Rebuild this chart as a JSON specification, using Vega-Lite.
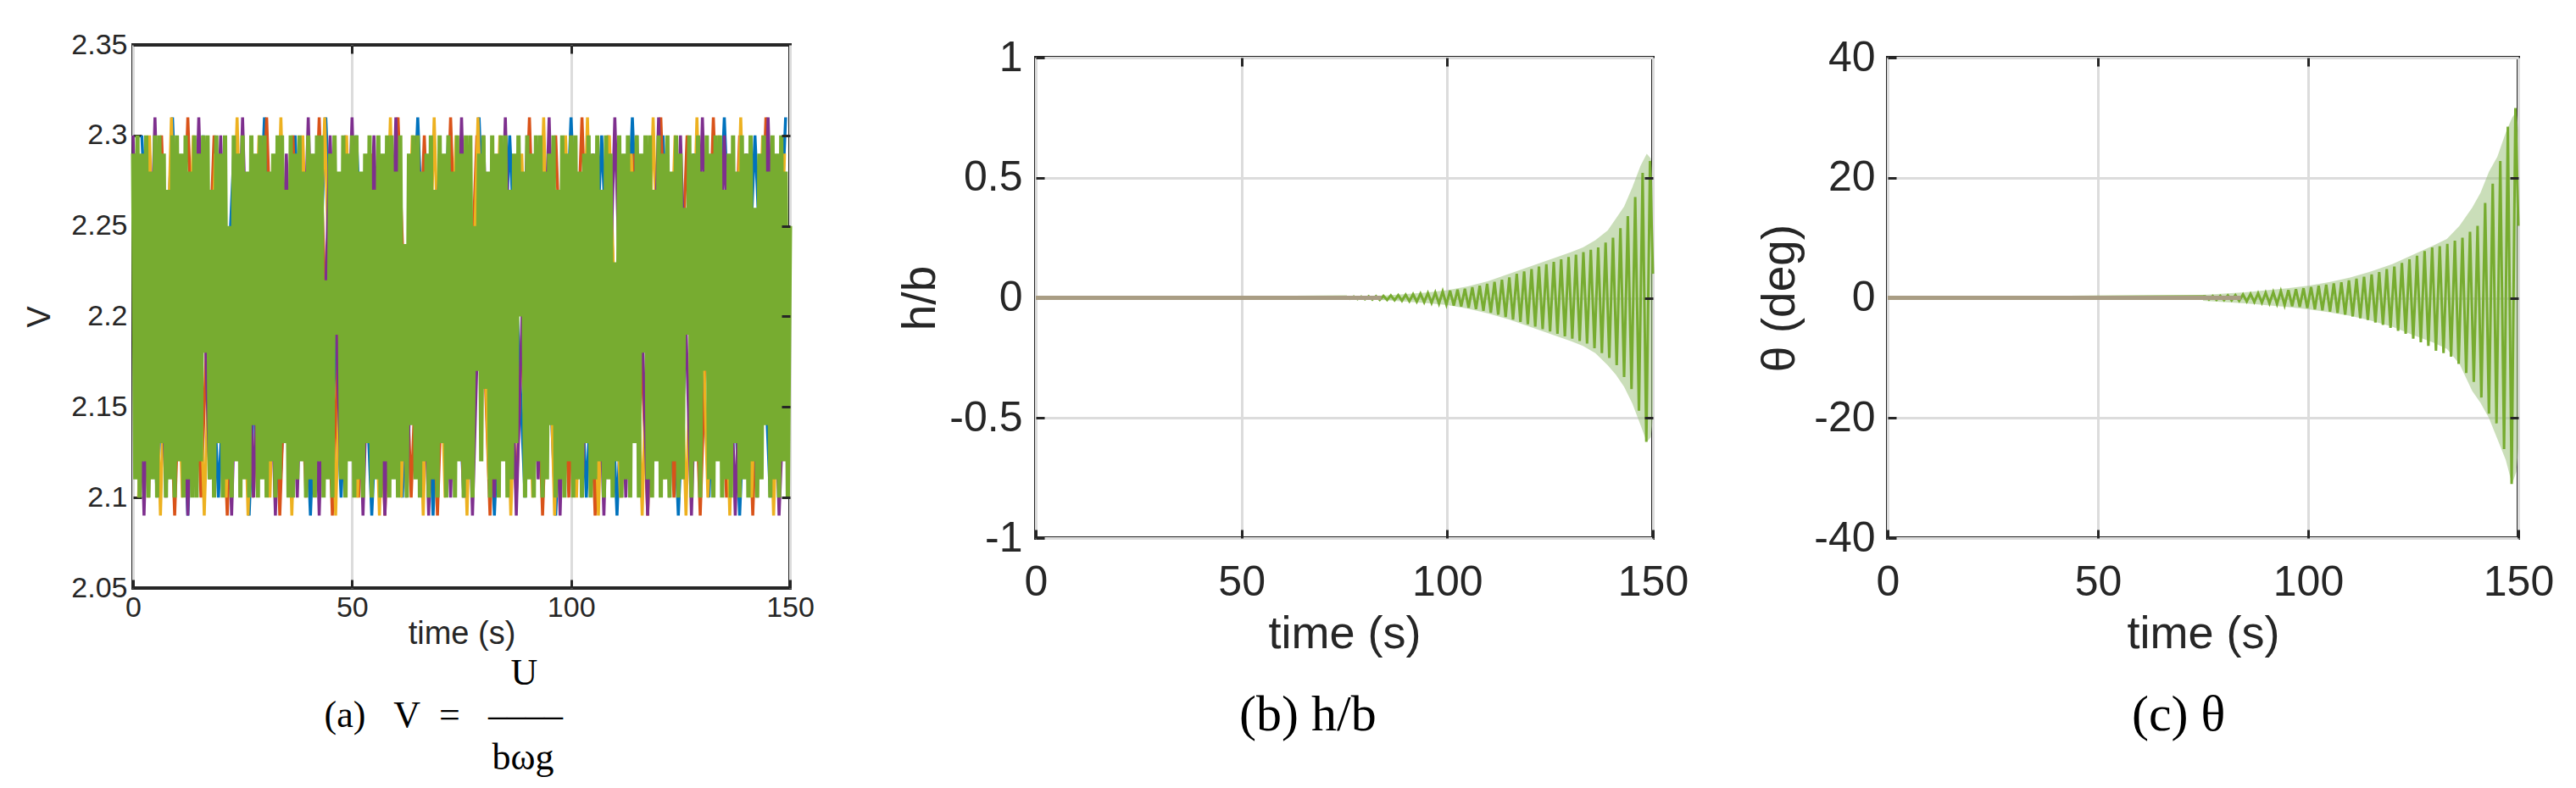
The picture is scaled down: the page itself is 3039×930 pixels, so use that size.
{
"$schema": "https://vega.github.io/schema/vega-lite/v6.json",
"background": "white",
"padding": {"left": 26, "top": 34, "right": 10, "bottom": 10},
"autosize": {"type": "pad"},
"config": {
  "font": "Liberation Sans",
  "view": {"stroke": "#262626", "strokeWidth": 4},
  "axis": {"labelColor": "#262626", "titleColor": "#262626", "tickColor": "#262626", "tickWidth": 3, "gridColor": "#dcdcdc", "gridWidth": 3, "gridOpacity": 1, "domain": false, "labelFlush": false, "labelOverlap": false, "titleFontWeight": "normal", "labelFont": "Liberation Sans", "titleFont": "Liberation Sans"}
},
"datasets": {
"a": [
{"s":"b","t":2,"v":2.30},{"s":"b","t":5.5,"v":2.10},{"s":"b","t":9,"v":2.31},{"s":"b","t":12.5,"v":2.09},{"s":"b","t":16,"v":2.30},{"s":"b","t":19.5,"v":2.10},{"s":"b","t":23,"v":2.29},{"s":"b","t":26.5,"v":2.09},{"s":"b","t":30,"v":2.31},{"s":"b","t":33.5,"v":2.10},{"s":"b","t":37,"v":2.30},{"s":"b","t":40.5,"v":2.09},{"s":"b","t":44,"v":2.31},{"s":"b","t":47.5,"v":2.10},{"s":"b","t":51,"v":2.30},{"s":"b","t":54.5,"v":2.09},{"s":"b","t":58,"v":2.29},{"s":"b","t":61.5,"v":2.10},{"s":"b","t":65,"v":2.31},{"s":"b","t":68.5,"v":2.09},{"s":"b","t":72,"v":2.30},{"s":"b","t":75.5,"v":2.10},{"s":"b","t":79,"v":2.31},{"s":"b","t":82.5,"v":2.09},{"s":"b","t":86,"v":2.30},{"s":"b","t":89.5,"v":2.10},{"s":"b","t":93,"v":2.29},{"s":"b","t":96.5,"v":2.09},{"s":"b","t":100,"v":2.31},{"s":"b","t":103.5,"v":2.10},{"s":"b","t":107,"v":2.30},{"s":"b","t":110.5,"v":2.09},{"s":"b","t":114,"v":2.31},{"s":"b","t":117.5,"v":2.10},{"s":"b","t":121,"v":2.30},{"s":"b","t":124.5,"v":2.09},{"s":"b","t":128,"v":2.29},{"s":"b","t":131.5,"v":2.10},{"s":"b","t":135,"v":2.31},{"s":"b","t":138.5,"v":2.09},{"s":"b","t":142,"v":2.30},{"s":"b","t":145.5,"v":2.10},{"s":"b","t":149,"v":2.31},
{"s":"r","t":0.5,"v":2.29},{"s":"r","t":3.5,"v":2.10},{"s":"r","t":6.5,"v":2.30},{"s":"r","t":9.5,"v":2.09},{"s":"r","t":12.5,"v":2.31},{"s":"r","t":15.5,"v":2.10},{"s":"r","t":18.5,"v":2.30},{"s":"r","t":21.5,"v":2.09},{"s":"r","t":24.5,"v":2.29},{"s":"r","t":27.5,"v":2.10},{"s":"r","t":30.5,"v":2.31},{"s":"r","t":33.5,"v":2.09},{"s":"r","t":36.5,"v":2.30},{"s":"r","t":39.5,"v":2.10},{"s":"r","t":42.5,"v":2.31},{"s":"r","t":45.5,"v":2.09},{"s":"r","t":48.5,"v":2.30},{"s":"r","t":51.5,"v":2.10},{"s":"r","t":54.5,"v":2.29},{"s":"r","t":57.5,"v":2.09},{"s":"r","t":60.5,"v":2.31},{"s":"r","t":63.5,"v":2.10},{"s":"r","t":66.5,"v":2.30},{"s":"r","t":69.5,"v":2.09},{"s":"r","t":72.5,"v":2.31},{"s":"r","t":75.5,"v":2.10},{"s":"r","t":78.5,"v":2.30},{"s":"r","t":81.5,"v":2.09},{"s":"r","t":84.5,"v":2.29},{"s":"r","t":87.5,"v":2.10},{"s":"r","t":90.5,"v":2.31},{"s":"r","t":93.5,"v":2.09},{"s":"r","t":96.5,"v":2.30},{"s":"r","t":99.5,"v":2.10},{"s":"r","t":102.5,"v":2.31},{"s":"r","t":105.5,"v":2.09},{"s":"r","t":108.5,"v":2.30},{"s":"r","t":111.5,"v":2.10},{"s":"r","t":114.5,"v":2.29},{"s":"r","t":117.5,"v":2.09},{"s":"r","t":120.5,"v":2.31},{"s":"r","t":123.5,"v":2.10},{"s":"r","t":126.5,"v":2.30},{"s":"r","t":129.5,"v":2.09},{"s":"r","t":132.5,"v":2.31},{"s":"r","t":135.5,"v":2.10},{"s":"r","t":138.5,"v":2.30},{"s":"r","t":141.5,"v":2.09},{"s":"r","t":144.5,"v":2.31},{"s":"r","t":147.5,"v":2.10},
{"s":"y","t":1.25,"v":2.10},{"s":"y","t":3.75,"v":2.30},{"s":"y","t":6.25,"v":2.09},{"s":"y","t":8.75,"v":2.31},{"s":"y","t":11.25,"v":2.10},{"s":"y","t":13.75,"v":2.30},{"s":"y","t":16.25,"v":2.09},{"s":"y","t":18.75,"v":2.29},{"s":"y","t":21.25,"v":2.10},{"s":"y","t":23.75,"v":2.31},{"s":"y","t":26.25,"v":2.09},{"s":"y","t":28.75,"v":2.30},{"s":"y","t":31.25,"v":2.10},{"s":"y","t":33.75,"v":2.31},{"s":"y","t":36.25,"v":2.09},{"s":"y","t":38.75,"v":2.30},{"s":"y","t":41.25,"v":2.11},{"s":"y","t":43.75,"v":2.31},{"s":"y","t":46.25,"v":2.09},{"s":"y","t":48.75,"v":2.30},{"s":"y","t":51.25,"v":2.10},{"s":"y","t":53.75,"v":2.29},{"s":"y","t":56.25,"v":2.09},{"s":"y","t":58.75,"v":2.31},{"s":"y","t":61.25,"v":2.10},{"s":"y","t":63.75,"v":2.30},{"s":"y","t":66.25,"v":2.09},{"s":"y","t":68.75,"v":2.31},{"s":"y","t":71.25,"v":2.10},{"s":"y","t":73.75,"v":2.30},{"s":"y","t":76.25,"v":2.09},{"s":"y","t":78.75,"v":2.31},{"s":"y","t":81.25,"v":2.11},{"s":"y","t":83.75,"v":2.30},{"s":"y","t":86.25,"v":2.09},{"s":"y","t":88.75,"v":2.29},{"s":"y","t":91.25,"v":2.10},{"s":"y","t":93.75,"v":2.31},{"s":"y","t":96.25,"v":2.09},{"s":"y","t":98.75,"v":2.30},{"s":"y","t":101.25,"v":2.10},{"s":"y","t":103.75,"v":2.31},{"s":"y","t":106.25,"v":2.09},{"s":"y","t":108.75,"v":2.30},{"s":"y","t":111.25,"v":2.10},{"s":"y","t":113.75,"v":2.29},{"s":"y","t":116.25,"v":2.09},{"s":"y","t":118.75,"v":2.31},{"s":"y","t":121.25,"v":2.11},{"s":"y","t":123.75,"v":2.30},{"s":"y","t":126.25,"v":2.09},{"s":"y","t":128.75,"v":2.31},{"s":"y","t":131.25,"v":2.10},{"s":"y","t":133.75,"v":2.30},{"s":"y","t":136.25,"v":2.09},{"s":"y","t":138.75,"v":2.31},{"s":"y","t":141.25,"v":2.10},{"s":"y","t":143.75,"v":2.30},{"s":"y","t":146.25,"v":2.09},{"s":"y","t":148.75,"v":2.29},
{"s":"p","t":0,"v":2.30},{"s":"p","t":2.5,"v":2.09},{"s":"p","t":5,"v":2.31},{"s":"p","t":7.5,"v":2.10},{"s":"p","t":10,"v":2.29},{"s":"p","t":12.5,"v":2.09},{"s":"p","t":15,"v":2.31},{"s":"p","t":17.5,"v":2.11},{"s":"p","t":20,"v":2.30},{"s":"p","t":22.5,"v":2.09},{"s":"p","t":25,"v":2.31},{"s":"p","t":27.5,"v":2.10},{"s":"p","t":30,"v":2.30},{"s":"p","t":32.5,"v":2.09},{"s":"p","t":35,"v":2.29},{"s":"p","t":37.5,"v":2.10},{"s":"p","t":40,"v":2.31},{"s":"p","t":42.5,"v":2.09},{"s":"p","t":45,"v":2.30},{"s":"p","t":47.5,"v":2.11},{"s":"p","t":50,"v":2.31},{"s":"p","t":52.5,"v":2.09},{"s":"p","t":55,"v":2.30},{"s":"p","t":57.5,"v":2.09},{"s":"p","t":60,"v":2.31},{"s":"p","t":62.5,"v":2.10},{"s":"p","t":65,"v":2.30},{"s":"p","t":67.5,"v":2.09},{"s":"p","t":70,"v":2.29},{"s":"p","t":72.5,"v":2.10},{"s":"p","t":75,"v":2.31},{"s":"p","t":77.5,"v":2.09},{"s":"p","t":80,"v":2.30},{"s":"p","t":82.5,"v":2.10},{"s":"p","t":85,"v":2.31},{"s":"p","t":87.5,"v":2.09},{"s":"p","t":90,"v":2.30},{"s":"p","t":92.5,"v":2.11},{"s":"p","t":95,"v":2.31},{"s":"p","t":97.5,"v":2.09},{"s":"p","t":100,"v":2.30},{"s":"p","t":102.5,"v":2.10},{"s":"p","t":105,"v":2.29},{"s":"p","t":107.5,"v":2.09},{"s":"p","t":110,"v":2.31},{"s":"p","t":112.5,"v":2.10},{"s":"p","t":115,"v":2.30},{"s":"p","t":117.5,"v":2.09},{"s":"p","t":120,"v":2.31},{"s":"p","t":122.5,"v":2.10},{"s":"p","t":125,"v":2.30},{"s":"p","t":127.5,"v":2.09},{"s":"p","t":130,"v":2.31},{"s":"p","t":132.5,"v":2.11},{"s":"p","t":135,"v":2.30},{"s":"p","t":137.5,"v":2.09},{"s":"p","t":140,"v":2.29},{"s":"p","t":142.5,"v":2.10},{"s":"p","t":145,"v":2.31},{"s":"p","t":147.5,"v":2.09},{"s":"p","t":150,"v":2.24},
{"s":"g","t":0,"v":2.29},{"s":"g","t":0.5,"v":2.11},{"s":"g","t":1,"v":2.30},{"s":"g","t":1.5,"v":2.10},{"s":"g","t":2,"v":2.29},{"s":"g","t":2.5,"v":2.12},{"s":"g","t":3,"v":2.30},{"s":"g","t":3.5,"v":2.10},{"s":"g","t":4,"v":2.28},{"s":"g","t":4.5,"v":2.11},{"s":"g","t":5,"v":2.30},{"s":"g","t":5.5,"v":2.10},{"s":"g","t":6,"v":2.30},{"s":"g","t":6.5,"v":2.13},{"s":"g","t":7,"v":2.29},{"s":"g","t":7.5,"v":2.10},{"s":"g","t":8,"v":2.27},{"s":"g","t":8.5,"v":2.11},{"s":"g","t":9,"v":2.30},{"s":"g","t":9.5,"v":2.10},
{"s":"g","t":10,"v":2.30},{"s":"g","t":10.5,"v":2.12},{"s":"g","t":11,"v":2.29},{"s":"g","t":11.5,"v":2.10},{"s":"g","t":12,"v":2.30},{"s":"g","t":12.5,"v":2.11},{"s":"g","t":13,"v":2.28},{"s":"g","t":13.5,"v":2.10},{"s":"g","t":14,"v":2.30},{"s":"g","t":14.5,"v":2.10},{"s":"g","t":15,"v":2.29},{"s":"g","t":15.5,"v":2.12},{"s":"g","t":16,"v":2.30},{"s":"g","t":16.5,"v":2.18},{"s":"g","t":17,"v":2.30},{"s":"g","t":17.5,"v":2.11},{"s":"g","t":18,"v":2.27},{"s":"g","t":18.5,"v":2.10},{"s":"g","t":19,"v":2.30},{"s":"g","t":19.5,"v":2.13},
{"s":"g","t":20,"v":2.29},{"s":"g","t":20.5,"v":2.10},{"s":"g","t":21,"v":2.30},{"s":"g","t":21.5,"v":2.11},{"s":"g","t":22,"v":2.25},{"s":"g","t":22.5,"v":2.10},{"s":"g","t":23,"v":2.30},{"s":"g","t":23.5,"v":2.12},{"s":"g","t":24,"v":2.29},{"s":"g","t":24.5,"v":2.10},{"s":"g","t":25,"v":2.30},{"s":"g","t":25.5,"v":2.11},{"s":"g","t":26,"v":2.28},{"s":"g","t":26.5,"v":2.10},{"s":"g","t":27,"v":2.30},{"s":"g","t":27.5,"v":2.14},{"s":"g","t":28,"v":2.29},{"s":"g","t":28.5,"v":2.10},{"s":"g","t":29,"v":2.30},{"s":"g","t":29.5,"v":2.11},
{"s":"g","t":30,"v":2.30},{"s":"g","t":30.5,"v":2.10},{"s":"g","t":31,"v":2.28},{"s":"g","t":31.5,"v":2.12},{"s":"g","t":32,"v":2.29},{"s":"g","t":32.5,"v":2.10},{"s":"g","t":33,"v":2.30},{"s":"g","t":33.5,"v":2.11},{"s":"g","t":34,"v":2.30},{"s":"g","t":34.5,"v":2.13},{"s":"g","t":35,"v":2.27},{"s":"g","t":35.5,"v":2.10},{"s":"g","t":36,"v":2.30},{"s":"g","t":36.5,"v":2.10},{"s":"g","t":37,"v":2.29},{"s":"g","t":37.5,"v":2.11},{"s":"g","t":38,"v":2.30},{"s":"g","t":38.5,"v":2.12},{"s":"g","t":39,"v":2.28},{"s":"g","t":39.5,"v":2.10},
{"s":"g","t":40,"v":2.30},{"s":"g","t":40.5,"v":2.11},{"s":"g","t":41,"v":2.29},{"s":"g","t":41.5,"v":2.10},{"s":"g","t":42,"v":2.30},{"s":"g","t":42.5,"v":2.12},{"s":"g","t":43,"v":2.30},{"s":"g","t":43.5,"v":2.10},{"s":"g","t":44,"v":2.22},{"s":"g","t":44.5,"v":2.11},{"s":"g","t":45,"v":2.29},{"s":"g","t":45.5,"v":2.10},{"s":"g","t":46,"v":2.30},{"s":"g","t":46.5,"v":2.19},{"s":"g","t":47,"v":2.28},{"s":"g","t":47.5,"v":2.11},{"s":"g","t":48,"v":2.30},{"s":"g","t":48.5,"v":2.10},{"s":"g","t":49,"v":2.29},{"s":"g","t":49.5,"v":2.12},
{"s":"g","t":50,"v":2.30},{"s":"g","t":50.5,"v":2.10},{"s":"g","t":51,"v":2.30},{"s":"g","t":51.5,"v":2.11},{"s":"g","t":52,"v":2.28},{"s":"g","t":52.5,"v":2.10},{"s":"g","t":53,"v":2.29},{"s":"g","t":53.5,"v":2.13},{"s":"g","t":54,"v":2.30},{"s":"g","t":54.5,"v":2.10},{"s":"g","t":55,"v":2.27},{"s":"g","t":55.5,"v":2.11},{"s":"g","t":56,"v":2.30},{"s":"g","t":56.5,"v":2.10},{"s":"g","t":57,"v":2.29},{"s":"g","t":57.5,"v":2.12},{"s":"g","t":58,"v":2.30},{"s":"g","t":58.5,"v":2.10},{"s":"g","t":59,"v":2.30},{"s":"g","t":59.5,"v":2.11},
{"s":"g","t":60,"v":2.28},{"s":"g","t":60.5,"v":2.10},{"s":"g","t":61,"v":2.30},{"s":"g","t":61.5,"v":2.12},{"s":"g","t":62,"v":2.24},{"s":"g","t":62.5,"v":2.10},{"s":"g","t":63,"v":2.29},{"s":"g","t":63.5,"v":2.14},{"s":"g","t":64,"v":2.30},{"s":"g","t":64.5,"v":2.11},{"s":"g","t":65,"v":2.30},{"s":"g","t":65.5,"v":2.10},{"s":"g","t":66,"v":2.28},{"s":"g","t":66.5,"v":2.12},{"s":"g","t":67,"v":2.29},{"s":"g","t":67.5,"v":2.10},{"s":"g","t":68,"v":2.30},{"s":"g","t":68.5,"v":2.11},{"s":"g","t":69,"v":2.27},{"s":"g","t":69.5,"v":2.10},
{"s":"g","t":70,"v":2.30},{"s":"g","t":70.5,"v":2.13},{"s":"g","t":71,"v":2.29},{"s":"g","t":71.5,"v":2.10},{"s":"g","t":72,"v":2.30},{"s":"g","t":72.5,"v":2.11},{"s":"g","t":73,"v":2.28},{"s":"g","t":73.5,"v":2.10},{"s":"g","t":74,"v":2.30},{"s":"g","t":74.5,"v":2.12},{"s":"g","t":75,"v":2.29},{"s":"g","t":75.5,"v":2.10},{"s":"g","t":76,"v":2.30},{"s":"g","t":76.5,"v":2.11},{"s":"g","t":77,"v":2.30},{"s":"g","t":77.5,"v":2.10},{"s":"g","t":78,"v":2.25},{"s":"g","t":78.5,"v":2.17},{"s":"g","t":79,"v":2.29},{"s":"g","t":79.5,"v":2.12},
{"s":"g","t":80,"v":2.30},{"s":"g","t":80.5,"v":2.16},{"s":"g","t":81,"v":2.28},{"s":"g","t":81.5,"v":2.10},{"s":"g","t":82,"v":2.30},{"s":"g","t":82.5,"v":2.11},{"s":"g","t":83,"v":2.29},{"s":"g","t":83.5,"v":2.10},{"s":"g","t":84,"v":2.30},{"s":"g","t":84.5,"v":2.12},{"s":"g","t":85,"v":2.30},{"s":"g","t":85.5,"v":2.10},{"s":"g","t":86,"v":2.27},{"s":"g","t":86.5,"v":2.11},{"s":"g","t":87,"v":2.29},{"s":"g","t":87.5,"v":2.13},{"s":"g","t":88,"v":2.30},{"s":"g","t":88.5,"v":2.20},{"s":"g","t":89,"v":2.28},{"s":"g","t":89.5,"v":2.10},
{"s":"g","t":90,"v":2.30},{"s":"g","t":90.5,"v":2.11},{"s":"g","t":91,"v":2.29},{"s":"g","t":91.5,"v":2.10},{"s":"g","t":92,"v":2.30},{"s":"g","t":92.5,"v":2.12},{"s":"g","t":93,"v":2.30},{"s":"g","t":93.5,"v":2.10},{"s":"g","t":94,"v":2.28},{"s":"g","t":94.5,"v":2.11},{"s":"g","t":95,"v":2.29},{"s":"g","t":95.5,"v":2.14},{"s":"g","t":96,"v":2.30},{"s":"g","t":96.5,"v":2.10},{"s":"g","t":97,"v":2.27},{"s":"g","t":97.5,"v":2.11},{"s":"g","t":98,"v":2.30},{"s":"g","t":98.5,"v":2.10},{"s":"g","t":99,"v":2.29},{"s":"g","t":99.5,"v":2.12},
{"s":"g","t":100,"v":2.30},{"s":"g","t":100.5,"v":2.10},{"s":"g","t":101,"v":2.30},{"s":"g","t":101.5,"v":2.11},{"s":"g","t":102,"v":2.28},{"s":"g","t":102.5,"v":2.10},{"s":"g","t":103,"v":2.29},{"s":"g","t":103.5,"v":2.13},{"s":"g","t":104,"v":2.30},{"s":"g","t":104.5,"v":2.10},{"s":"g","t":105,"v":2.29},{"s":"g","t":105.5,"v":2.11},{"s":"g","t":106,"v":2.30},{"s":"g","t":106.5,"v":2.12},{"s":"g","t":107,"v":2.27},{"s":"g","t":107.5,"v":2.10},{"s":"g","t":108,"v":2.30},{"s":"g","t":108.5,"v":2.11},{"s":"g","t":109,"v":2.29},{"s":"g","t":109.5,"v":2.10},
{"s":"g","t":110,"v":2.23},{"s":"g","t":110.5,"v":2.12},{"s":"g","t":111,"v":2.30},{"s":"g","t":111.5,"v":2.10},{"s":"g","t":112,"v":2.29},{"s":"g","t":112.5,"v":2.11},{"s":"g","t":113,"v":2.30},{"s":"g","t":113.5,"v":2.10},{"s":"g","t":114,"v":2.28},{"s":"g","t":114.5,"v":2.13},{"s":"g","t":115,"v":2.30},{"s":"g","t":115.5,"v":2.10},{"s":"g","t":116,"v":2.29},{"s":"g","t":116.5,"v":2.18},{"s":"g","t":117,"v":2.30},{"s":"g","t":117.5,"v":2.11},{"s":"g","t":118,"v":2.30},{"s":"g","t":118.5,"v":2.10},{"s":"g","t":119,"v":2.27},{"s":"g","t":119.5,"v":2.12},
{"s":"g","t":120,"v":2.30},{"s":"g","t":120.5,"v":2.10},{"s":"g","t":121,"v":2.29},{"s":"g","t":121.5,"v":2.11},{"s":"g","t":122,"v":2.30},{"s":"g","t":122.5,"v":2.10},{"s":"g","t":123,"v":2.28},{"s":"g","t":123.5,"v":2.12},{"s":"g","t":124,"v":2.30},{"s":"g","t":124.5,"v":2.10},{"s":"g","t":125,"v":2.29},{"s":"g","t":125.5,"v":2.11},{"s":"g","t":126,"v":2.26},{"s":"g","t":126.5,"v":2.19},{"s":"g","t":127,"v":2.30},{"s":"g","t":127.5,"v":2.10},{"s":"g","t":128,"v":2.29},{"s":"g","t":128.5,"v":2.12},{"s":"g","t":129,"v":2.30},{"s":"g","t":129.5,"v":2.10},
{"s":"g","t":130,"v":2.28},{"s":"g","t":130.5,"v":2.17},{"s":"g","t":131,"v":2.30},{"s":"g","t":131.5,"v":2.11},{"s":"g","t":132,"v":2.29},{"s":"g","t":132.5,"v":2.10},{"s":"g","t":133,"v":2.30},{"s":"g","t":133.5,"v":2.12},{"s":"g","t":134,"v":2.30},{"s":"g","t":134.5,"v":2.10},{"s":"g","t":135,"v":2.27},{"s":"g","t":135.5,"v":2.11},{"s":"g","t":136,"v":2.29},{"s":"g","t":136.5,"v":2.10},{"s":"g","t":137,"v":2.30},{"s":"g","t":137.5,"v":2.13},{"s":"g","t":138,"v":2.28},{"s":"g","t":138.5,"v":2.10},{"s":"g","t":139,"v":2.30},{"s":"g","t":139.5,"v":2.11},
{"s":"g","t":140,"v":2.29},{"s":"g","t":140.5,"v":2.10},{"s":"g","t":141,"v":2.30},{"s":"g","t":141.5,"v":2.12},{"s":"g","t":142,"v":2.26},{"s":"g","t":142.5,"v":2.10},{"s":"g","t":143,"v":2.29},{"s":"g","t":143.5,"v":2.11},{"s":"g","t":144,"v":2.30},{"s":"g","t":144.5,"v":2.14},{"s":"g","t":145,"v":2.28},{"s":"g","t":145.5,"v":2.10},{"s":"g","t":146,"v":2.30},{"s":"g","t":146.5,"v":2.11},{"s":"g","t":147,"v":2.29},{"s":"g","t":147.5,"v":2.10},{"s":"g","t":148,"v":2.30},{"s":"g","t":148.5,"v":2.12},{"s":"g","t":149,"v":2.28},{"s":"g","t":149.5,"v":2.10},
{"s":"g","t":150,"v":2.25}
],
"b": [
{"s":"f","t":0,"v":0},{"s":"f","t":84,"v":0},
{"s":"g","t":0,"v":0},
{"s":"g","t":75.5,"v":0.004},{"s":"g","t":76.4,"v":-0.004},{"s":"g","t":77.3,"v":0.005},{"s":"g","t":78.2,"v":-0.005},{"s":"g","t":79.1,"v":0.005},{"s":"g","t":80.0,"v":-0.006},{"s":"g","t":80.9,"v":0.006},{"s":"g","t":81.8,"v":-0.007},{"s":"g","t":82.7,"v":0.007},{"s":"g","t":83.6,"v":-0.008},
{"s":"g","t":84.5,"v":0.008},{"s":"g","t":85.4,"v":-0.009},{"s":"g","t":86.3,"v":0.010},{"s":"g","t":87.2,"v":-0.010},{"s":"g","t":88.1,"v":0.011},{"s":"g","t":89.0,"v":-0.012},{"s":"g","t":89.9,"v":0.013},{"s":"g","t":90.8,"v":-0.014},{"s":"g","t":91.7,"v":0.015},{"s":"g","t":92.6,"v":-0.016},
{"s":"g","t":93.5,"v":0.017},{"s":"g","t":94.4,"v":-0.018},{"s":"g","t":95.3,"v":0.020},{"s":"g","t":96.2,"v":-0.021},{"s":"g","t":97.1,"v":0.022},{"s":"g","t":98.0,"v":-0.024},{"s":"g","t":98.9,"v":0.026},{"s":"g","t":99.8,"v":-0.028},{"s":"g","t":100.7,"v":0.030},{"s":"g","t":101.6,"v":-0.032},
{"s":"g","t":102.5,"v":0.034},{"s":"g","t":103.4,"v":-0.036},{"s":"g","t":104.3,"v":0.038},{"s":"g","t":105.2,"v":-0.041},{"s":"g","t":106.1,"v":0.044},{"s":"g","t":107.0,"v":-0.047},{"s":"g","t":107.9,"v":0.050},{"s":"g","t":108.8,"v":-0.054},{"s":"g","t":109.7,"v":0.058},{"s":"g","t":110.6,"v":-0.062},
{"s":"g","t":111.5,"v":0.066},{"s":"g","t":112.4,"v":-0.070},{"s":"g","t":113.3,"v":0.075},{"s":"g","t":114.2,"v":-0.080},{"s":"g","t":115.1,"v":0.085},{"s":"g","t":116.0,"v":-0.090},{"s":"g","t":116.9,"v":0.10},{"s":"g","t":117.8,"v":-0.10},{"s":"g","t":118.7,"v":0.11},{"s":"g","t":119.6,"v":-0.11},
{"s":"g","t":120.5,"v":0.12},{"s":"g","t":121.4,"v":-0.12},{"s":"g","t":122.3,"v":0.13},{"s":"g","t":123.2,"v":-0.13},{"s":"g","t":124.1,"v":0.14},{"s":"g","t":125.0,"v":-0.14},{"s":"g","t":125.9,"v":0.15},{"s":"g","t":126.8,"v":-0.15},{"s":"g","t":127.7,"v":0.16},{"s":"g","t":128.6,"v":-0.16},
{"s":"g","t":129.5,"v":0.17},{"s":"g","t":130.4,"v":-0.17},{"s":"g","t":131.3,"v":0.18},{"s":"g","t":132.2,"v":-0.18},{"s":"g","t":133.1,"v":0.19},{"s":"g","t":134.0,"v":-0.19},{"s":"g","t":134.9,"v":0.20},{"s":"g","t":135.8,"v":-0.21},{"s":"g","t":136.7,"v":0.21},{"s":"g","t":137.6,"v":-0.23},
{"s":"g","t":138.5,"v":0.23},{"s":"g","t":139.4,"v":-0.25},{"s":"g","t":140.3,"v":0.25},{"s":"g","t":141.2,"v":-0.28},{"s":"g","t":142.1,"v":0.29},{"s":"g","t":143.0,"v":-0.33},{"s":"g","t":143.9,"v":0.34},{"s":"g","t":144.8,"v":-0.38},{"s":"g","t":145.7,"v":0.42},{"s":"g","t":146.6,"v":-0.47},
{"s":"g","t":147.5,"v":0.52},{"s":"g","t":148.4,"v":-0.60},{"s":"g","t":149.3,"v":0.57},{"s":"g","t":150,"v":0.10}
],
"benv": [
{"t":75,"lo":-0.006,"hi":0.006},{"t":85,"lo":-0.01,"hi":0.01},{"t":95,"lo":-0.022,"hi":0.022},{"t":100,"lo":-0.03,"hi":0.032},{"t":105,"lo":-0.045,"hi":0.048},{"t":110,"lo":-0.065,"hi":0.07},{"t":115,"lo":-0.09,"hi":0.1},{"t":120,"lo":-0.12,"hi":0.13},{"t":125,"lo":-0.15,"hi":0.16},{"t":130,"lo":-0.18,"hi":0.19},{"t":133,"lo":-0.2,"hi":0.21},{"t":136,"lo":-0.23,"hi":0.24},{"t":139,"lo":-0.28,"hi":0.28},{"t":141,"lo":-0.32,"hi":0.33},{"t":143,"lo":-0.37,"hi":0.38},{"t":145,"lo":-0.44,"hi":0.46},{"t":147,"lo":-0.53,"hi":0.55},{"t":148.5,"lo":-0.6,"hi":0.6},{"t":149.5,"lo":-0.58,"hi":0.58},{"t":150,"lo":-0.5,"hi":0.45}
],
"c": [
{"s":"f","t":0,"v":0},{"s":"f","t":84,"v":0},
{"s":"g","t":0,"v":0},
{"s":"g","t":75.5,"v":0.26},{"s":"g","t":76.4,"v":-0.28},{"s":"g","t":77.3,"v":0.30},{"s":"g","t":78.2,"v":-0.32},{"s":"g","t":79.1,"v":0.34},{"s":"g","t":80.0,"v":-0.37},{"s":"g","t":80.9,"v":0.40},{"s":"g","t":81.8,"v":-0.42},{"s":"g","t":82.7,"v":0.45},{"s":"g","t":83.6,"v":-0.50},
{"s":"g","t":84.5,"v":0.55},{"s":"g","t":85.4,"v":-0.60},{"s":"g","t":86.3,"v":0.65},{"s":"g","t":87.2,"v":-0.70},{"s":"g","t":88.1,"v":0.75},{"s":"g","t":89.0,"v":-0.80},{"s":"g","t":89.9,"v":0.85},{"s":"g","t":90.8,"v":-0.90},{"s":"g","t":91.7,"v":0.95},{"s":"g","t":92.6,"v":-1.0},
{"s":"g","t":93.5,"v":1.1},{"s":"g","t":94.4,"v":-1.2},{"s":"g","t":95.3,"v":1.3},{"s":"g","t":96.2,"v":-1.4},{"s":"g","t":97.1,"v":1.45},{"s":"g","t":98.0,"v":-1.5},{"s":"g","t":98.9,"v":1.6},{"s":"g","t":99.8,"v":-1.7},{"s":"g","t":100.7,"v":1.8},{"s":"g","t":101.6,"v":-1.9},
{"s":"g","t":102.5,"v":2.0},{"s":"g","t":103.4,"v":-2.1},{"s":"g","t":104.3,"v":2.2},{"s":"g","t":105.2,"v":-2.3},{"s":"g","t":106.1,"v":2.4},{"s":"g","t":107.0,"v":-2.5},{"s":"g","t":107.9,"v":2.6},{"s":"g","t":108.8,"v":-2.8},{"s":"g","t":109.7,"v":2.9},{"s":"g","t":110.6,"v":-3.1},
{"s":"g","t":111.5,"v":3.2},{"s":"g","t":112.4,"v":-3.4},{"s":"g","t":113.3,"v":3.5},{"s":"g","t":114.2,"v":-3.7},{"s":"g","t":115.1,"v":3.9},{"s":"g","t":116.0,"v":-4.1},{"s":"g","t":116.9,"v":4.3},{"s":"g","t":117.8,"v":-4.5},{"s":"g","t":118.7,"v":4.8},{"s":"g","t":119.6,"v":-5.0},
{"s":"g","t":120.5,"v":5.2},{"s":"g","t":121.4,"v":-5.5},{"s":"g","t":122.3,"v":5.8},{"s":"g","t":123.2,"v":-6.0},{"s":"g","t":124.1,"v":6.4},{"s":"g","t":125.0,"v":-6.8},{"s":"g","t":125.9,"v":7.0},{"s":"g","t":126.8,"v":-7.4},{"s":"g","t":127.7,"v":7.8},{"s":"g","t":128.6,"v":-8.0},
{"s":"g","t":129.5,"v":8.4},{"s":"g","t":130.4,"v":-8.8},{"s":"g","t":131.3,"v":8.6},{"s":"g","t":132.2,"v":-9.2},{"s":"g","t":133.1,"v":9.0},{"s":"g","t":134.0,"v":-9.8},{"s":"g","t":134.9,"v":9.5},{"s":"g","t":135.8,"v":-11.0},{"s":"g","t":136.7,"v":10.0},{"s":"g","t":137.6,"v":-12.5},
{"s":"g","t":138.5,"v":11.0},{"s":"g","t":139.4,"v":-14.0},{"s":"g","t":140.3,"v":12.0},{"s":"g","t":141.2,"v":-16.6},{"s":"g","t":142.1,"v":15.8},{"s":"g","t":143.0,"v":-19.3},{"s":"g","t":143.9,"v":19.0},{"s":"g","t":144.8,"v":-20.9},{"s":"g","t":145.7,"v":22.8},{"s":"g","t":146.6,"v":-25.2},
{"s":"g","t":147.5,"v":28.5},{"s":"g","t":148.4,"v":-31.0},{"s":"g","t":149.3,"v":31.6},{"s":"g","t":150,"v":12}
],
"cenv": [
{"t":75,"lo":-0.5,"hi":0.5},{"t":85,"lo":-0.9,"hi":0.9},{"t":95,"lo":-1.5,"hi":1.6},{"t":100,"lo":-1.9,"hi":2.0},{"t":105,"lo":-2.4,"hi":2.6},{"t":110,"lo":-3.0,"hi":3.4},{"t":115,"lo":-3.8,"hi":4.4},{"t":120,"lo":-4.8,"hi":5.6},{"t":125,"lo":-6.2,"hi":7.2},{"t":130,"lo":-7.5,"hi":8.8},{"t":133,"lo":-8.5,"hi":9.8},{"t":136,"lo":-11.0,"hi":12.0},{"t":139,"lo":-15.5,"hi":15.0},{"t":141,"lo":-17.5,"hi":17.5},{"t":143,"lo":-20,"hi":21},{"t":145,"lo":-23.5,"hi":23.5},{"t":147,"lo":-27,"hi":27.5},{"t":148.5,"lo":-31,"hi":30},{"t":149.5,"lo":-29,"hi":31},{"t":150,"lo":-25,"hi":28}
]
},
"spacing": 290,
"bounds": "flush",
"hconcat": [
{
  "width": 775, "height": 641,
  "data": {"name": "a"},
  "title": {"text": ["\u200b\u00a0\u00a0\u00a0\u00a0\u00a0\u00a0\u00a0\u00a0\u00a0\u00a0\u00a0\u00a0\u00a0\u00a0\u00a0\u00a0\u00a0\u00a0\u00a0\u00a0U", "(a)\u00a0\u00a0\u00a0V\u00a0\u00a0=\u00a0\u00a0\u00a0––––", "\u200b\u00a0\u00a0\u00a0\u00a0\u00a0\u00a0\u00a0\u00a0\u00a0\u00a0\u00a0\u00a0\u00a0\u00a0\u00a0\u00a0\u00a0\u00a0bωg"],
    "orient": "bottom", "frame": "group", "anchor": "middle", "align": "left", "dx": -162, "offset": 6, "baseline": "top",
    "font": "Liberation Serif", "fontSize": 44, "fontWeight": "normal", "color": "black", "lineHeight": 50},
  "layer": [
    {"transform": [{"filter": "datum.s != 'g'"}],
     "mark": {"type": "line", "strokeWidth": 3.5},
     "encoding": {
       "x": {"field": "t", "type": "quantitative", "scale": {"domain": [0, 150], "nice": false},
             "axis": {"values": [0, 50, 100, 150], "title": "time (s)", "titleFontSize": 38, "titleY": 65, "titleBaseline": "alphabetic", "labelFontSize": 34, "tickSize": -10, "labelPadding": 16, "grid": true}},
       "y": {"field": "v", "type": "quantitative", "scale": {"domain": [2.05, 2.35], "nice": false, "zero": false},
             "axis": {"values": [2.05, 2.1, 2.15, 2.2, 2.25, 2.3, 2.35], "format": ".3~g", "title": "V", "titleFontSize": 38, "titleX": -99, "titleBaseline": "alphabetic", "labelFontSize": 34, "tickSize": -10, "labelPadding": 17, "grid": false}},
       "color": {"field": "s", "type": "nominal", "scale": {"domain": ["b", "r", "y", "p", "g"], "range": ["#0072BD", "#D95319", "#EDB120", "#7E2F8E", "#77AC30"]}, "legend": null}
     }},
    {"transform": [{"filter": "datum.s == 'g'"}],
     "mark": {"type": "line", "strokeWidth": 5, "color": "#77AC30"},
     "encoding": {
       "x": {"field": "t", "type": "quantitative", "axis": {"orient": "top", "values": [50, 100], "labels": false, "title": null, "grid": false, "tickSize": -10, "zindex": 1}},
       "y": {"field": "v", "type": "quantitative", "axis": {"orient": "right", "values": [2.1, 2.15, 2.2, 2.25, 2.3], "labels": false, "title": null, "grid": false, "tickSize": -10, "zindex": 1}}
     }}
  ],
  "resolve": {"axis": {"x": "independent", "y": "independent"}}
},
{
  "spacing": 14,
  "bounds": "flush",
  "vconcat": [
    {"width": 10, "height": 1, "data": {"values": [{"k": 1}]}, "mark": {"type": "text", "text": ""}, "view": {"stroke": null}},
    {
      "spacing": 277,
      "bounds": "flush",
      "hconcat": [
        {
          "width": 728, "height": 567,
          "title": {"text": "(b) h/b",
            "orient": "bottom", "frame": "group", "anchor": "middle", "align": "left", "dx": -124, "offset": 40, "baseline": "top",
            "font": "Liberation Serif", "fontSize": 60, "fontWeight": "normal", "color": "black"},
          "layer": [
            {"data": {"name": "benv"},
             "mark": {"type": "area", "color": "#9fc27f", "opacity": 0.55},
             "encoding": {
               "x": {"field": "t", "type": "quantitative", "scale": {"domain": [0, 150], "nice": false},
                     "axis": {"values": [0, 50, 100, 150], "title": "time (s)", "titleFontSize": 54, "titleY": 129, "titleBaseline": "alphabetic", "labelFontSize": 50, "tickSize": -10, "labelPadding": 37, "grid": true}},
               "y": {"field": "lo", "type": "quantitative", "scale": {"domain": [-1, 1], "nice": false},
                     "axis": {"values": [-1, -0.5, 0, 0.5, 1], "format": "~g", "labelExpr": "replace(datum.label, '\u2212', '-')", "title": "h/b", "titleFontSize": 55, "titleX": -120, "titleBaseline": "alphabetic", "labelFontSize": 50, "tickSize": -10, "labelPadding": 26, "grid": true}},
               "y2": {"field": "hi"}
             }},
            {"data": {"name": "b"},
             "transform": [{"filter": "datum.s == 'g'"}],
             "mark": {"type": "line", "strokeWidth": 3, "color": "#77AC30"},
             "encoding": {
               "x": {"field": "t", "type": "quantitative", "axis": {"orient": "top", "values": [50, 100], "labels": false, "title": null, "grid": false, "tickSize": -10, "zindex": 1}},
               "y": {"field": "v", "type": "quantitative", "axis": {"orient": "right", "values": [-0.5, 0, 0.5], "labels": false, "title": null, "grid": false, "tickSize": -10, "zindex": 1}}
             }},
            {"data": {"name": "b"},
             "transform": [{"filter": "datum.s == 'f'"}],
             "mark": {"type": "line", "strokeWidth": 5, "color": "#a99d84"},
             "encoding": {
               "x": {"field": "t", "type": "quantitative", "axis": null},
               "y": {"field": "v", "type": "quantitative", "axis": null}
             }}
          ],
          "resolve": {"axis": {"x": "independent", "y": "independent"}}
        },
        {
          "width": 744, "height": 567,
          "title": {"text": "(c) θ",
            "orient": "bottom", "frame": "group", "anchor": "middle", "align": "left", "dx": -84, "offset": 40, "baseline": "top",
            "font": "Liberation Serif", "fontSize": 60, "fontWeight": "normal", "color": "black"},
          "layer": [
            {"data": {"name": "cenv"},
             "mark": {"type": "area", "color": "#9fc27f", "opacity": 0.55},
             "encoding": {
               "x": {"field": "t", "type": "quantitative", "scale": {"domain": [0, 150], "nice": false},
                     "axis": {"values": [0, 50, 100, 150], "title": "time (s)", "titleFontSize": 54, "titleY": 129, "titleBaseline": "alphabetic", "labelFontSize": 50, "tickSize": -10, "labelPadding": 37, "grid": true}},
               "y": {"field": "lo", "type": "quantitative", "scale": {"domain": [-40, 40], "nice": false},
                     "axis": {"values": [-40, -20, 0, 20, 40], "format": "d", "labelExpr": "replace(datum.label, '\u2212', '-')", "title": "θ (deg)", "titleFontSize": 55, "titleX": -111, "titleBaseline": "alphabetic", "labelFontSize": 50, "tickSize": -10, "labelPadding": 25, "grid": true}},
               "y2": {"field": "hi"}
             }},
            {"data": {"name": "c"},
             "transform": [{"filter": "datum.s == 'g'"}],
             "mark": {"type": "line", "strokeWidth": 3, "color": "#77AC30"},
             "encoding": {
               "x": {"field": "t", "type": "quantitative", "axis": {"orient": "top", "values": [50, 100], "labels": false, "title": null, "grid": false, "tickSize": -10, "zindex": 1}},
               "y": {"field": "v", "type": "quantitative", "axis": {"orient": "right", "values": [-20, 0, 20], "labels": false, "title": null, "grid": false, "tickSize": -10, "zindex": 1}}
             }},
            {"data": {"name": "c"},
             "transform": [{"filter": "datum.s == 'f'"}],
             "mark": {"type": "line", "strokeWidth": 5, "color": "#a99d84"},
             "encoding": {
               "x": {"field": "t", "type": "quantitative", "axis": null},
               "y": {"field": "v", "type": "quantitative", "axis": null}
             }}
          ],
          "resolve": {"axis": {"x": "independent", "y": "independent"}}
        }
      ]
    }
  ]
}
]
}
